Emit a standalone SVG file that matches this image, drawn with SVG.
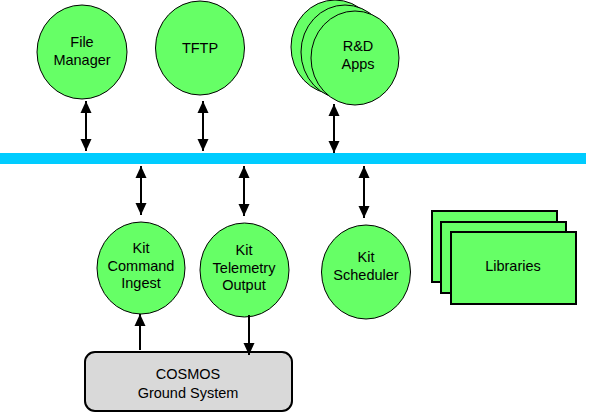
<svg xmlns="http://www.w3.org/2000/svg" width="592" height="413" viewBox="0 0 592 413">
<style>
.n{fill:#66FF66;stroke:#000;stroke-width:1}
.r{fill:#66FF66;stroke:#000;stroke-width:2}
.g{fill:#D9D9D9;stroke:#000;stroke-width:2}
text{font-family:"Liberation Sans",Arial,sans-serif;font-size:14.5px;fill:#000;text-anchor:middle}
.a{stroke:#000;stroke-width:2;fill:none}
</style>
<defs>
<marker id="h" markerUnits="userSpaceOnUse" markerWidth="12" markerHeight="12" viewBox="0 0 12 12" refX="12" refY="6" orient="auto-start-reverse">
<path d="M0,0.5 L12,6 L0,11.5 z" fill="#000"/>
</marker>
</defs>
<rect id="bus" x="0" y="153" width="586" height="11" fill="#00CCFF"/>
<g id="file-manager"><ellipse class="n" cx="82" cy="52" rx="45" ry="47"/><text x="82" y="47">File</text><text x="82" y="65">Manager</text></g>
<g id="tftp"><ellipse class="n" cx="200" cy="48" rx="44.5" ry="47"/><text x="200" y="53">TFTP</text></g>
<g id="rd-apps"><ellipse class="n" cx="335" cy="47" rx="44" ry="47"/><ellipse class="n" cx="345" cy="52" rx="44" ry="47"/><ellipse class="n" cx="355" cy="58" rx="44" ry="47"/><text x="358" y="51">R&amp;D</text><text x="358" y="69">Apps</text></g>
<g id="kit-ci"><ellipse class="n" cx="141" cy="268" rx="44" ry="46"/><text x="141" y="253">Kit</text><text x="141" y="271">Command</text><text x="141" y="288">Ingest</text></g>
<g id="kit-to"><ellipse class="n" cx="244.5" cy="270" rx="44.5" ry="47"/><text x="244" y="255">Kit</text><text x="244" y="273">Telemetry</text><text x="244" y="290">Output</text></g>
<g id="kit-sch"><ellipse class="n" cx="366" cy="272" rx="44.5" ry="47"/><text x="366" y="262">Kit</text><text x="366" y="280">Scheduler</text></g>
<g id="libraries"><rect class="r" x="432" y="211" width="125" height="71"/><rect class="r" x="441" y="222" width="125" height="71"/><rect class="r" x="451" y="232" width="125" height="72"/><text x="513" y="271">Libraries</text></g>
<g id="cosmos"><rect class="g" x="85" y="352" width="207" height="59" rx="10"/><text x="188" y="379">COSMOS</text><text x="188" y="398">Ground System</text></g>
<g id="connectors">
<line class="a" x1="86" y1="101" x2="86" y2="151" marker-start="url(#h)" marker-end="url(#h)"/>
<line class="a" x1="203" y1="101" x2="203" y2="151" marker-start="url(#h)" marker-end="url(#h)"/>
<line class="a" x1="334" y1="104" x2="334" y2="153" marker-start="url(#h)" marker-end="url(#h)"/>
<line class="a" x1="141" y1="166" x2="141" y2="215" marker-start="url(#h)" marker-end="url(#h)"/>
<line class="a" x1="244" y1="166" x2="244" y2="216" marker-start="url(#h)" marker-end="url(#h)"/>
<line class="a" x1="364" y1="166" x2="364" y2="218" marker-start="url(#h)" marker-end="url(#h)"/>
<line class="a" x1="140" y1="350" x2="140" y2="314" marker-end="url(#h)"/>
<line class="a" x1="249" y1="315" x2="249" y2="355" marker-end="url(#h)"/>
</g>
</svg>
